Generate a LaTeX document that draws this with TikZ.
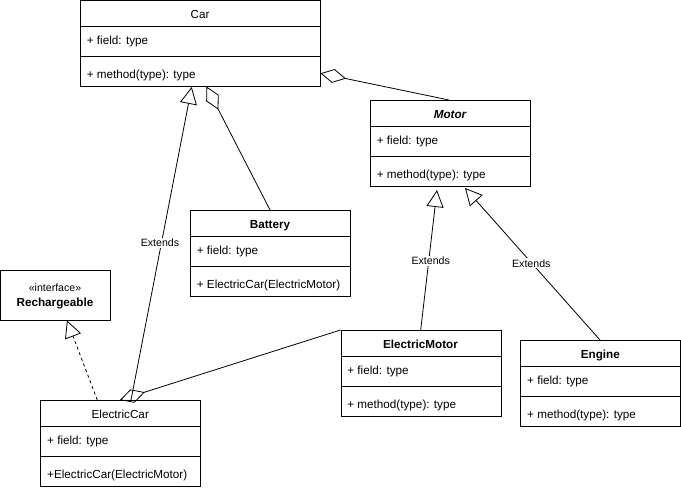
\documentclass[tikz,border=0pt]{standalone}
\usepackage{fontspec}
\setmainfont{Liberation Sans}
\usetikzlibrary{arrows.meta}

\begin{document}
\begin{tikzpicture}[x=1pt, y=-1pt, line width=0.8pt,
    classbox/.style={draw, inner sep=0pt, anchor=north west},
    member/.style={font=\fontsize{11.7}{14}\selectfont, inner sep=0pt, anchor=base west},
    head/.style={font=\fontsize{11.7}{14}\selectfont, inner sep=0pt, anchor=base},
    extlabel/.style={font=\fontsize{10.6}{12}\selectfont, fill=white, inner sep=1pt},
    extends/.style={-{Triangle[open, length=17pt, width=17pt]}},
    aggregate/.style={-{Diamond[open, length=26pt, width=14pt]}}]
      \useasboundingbox (0,0) rectangle (681,490);

      % Car
      \node [classbox, minimum width=240pt, minimum height=86pt] (car) at (80,0) {};
      \draw (80,26) -- (320,26);
      \draw (80,56) -- (320,56);
      \node [head] (carname) at (200,18.3) {Car};
      \node [member] (carfield) at (86.5,44.2) {+ field: type};
      \node [member] (carmeth) at (86.5,78.5) {+ method(type): type};

      % Motor
      \node [classbox, minimum width=160pt, minimum height=86pt] (motor) at (370,100) {};
      \draw (370,126) -- (530,126);
      \draw (370,156) -- (530,156);
      \node [head, font=\fontsize{11.7}{14}\selectfont\bfseries\itshape] (motorname) at (450,118.3) {Motor};
      \node [member] (motorfield) at (376.5,144.2) {+ field: type};
      \node [member] (motormeth) at (376.5,178.5) {+ method(type): type};

      % Battery
      \node [classbox, minimum width=160pt, minimum height=86pt] (battery) at (190,210) {};
      \draw (190,236) -- (350,236);
      \draw (190,266) -- (350,266);
      \node [head, font=\fontsize{11.7}{14}\selectfont\bfseries] (batteryname) at (270,228.3) {Battery};
      \node [member] (batteryfield) at (196.5,254.2) {+ field: type};
      \node [member] (batterymeth) at (196.5,288.5) {+ ElectricCar(ElectricMotor)};

      % Rechargeable
      \node [classbox, minimum width=110pt, minimum height=50pt] (recharge) at (0,270) {};
      \node [head, font=\fontsize{10.6}{12}\selectfont] (rechargetag) at (55,291.7) {«interface»};
      \node [head, font=\fontsize{11.7}{14}\selectfont\bfseries] (rechargename) at (55,306.7) {Rechargeable};

      % ElectricMotor
      \node [classbox, minimum width=160pt, minimum height=86pt] (emotor) at (340.5,330) {};
      \draw (340.5,356) -- (500.5,356);
      \draw (340.5,386) -- (500.5,386);
      \node [head, font=\fontsize{11.7}{14}\selectfont\bfseries] (emotorname) at (420.5,348.3) {ElectricMotor};
      \node [member] (emotorfield) at (347,374.2) {+ field: type};
      \node [member] (emotormeth) at (347,408.5) {+ method(type): type};

      % Engine
      \node [classbox, minimum width=160pt, minimum height=86pt] (engine) at (520.3,340) {};
      \draw (520.3,366) -- (680.3,366);
      \draw (520.3,396) -- (680.3,396);
      \node [head, font=\fontsize{11.7}{14}\selectfont\bfseries] (enginename) at (600.3,358.3) {Engine};
      \node [member] (enginefield) at (526.8,384.2) {+ field: type};
      \node [member] (enginemeth) at (526.8,418.5) {+ method(type): type};

      % ElectricCar
      \node [classbox, minimum width=160pt, minimum height=86pt] (ecar) at (40.3,400) {};
      \draw (40.3,426) -- (200.3,426);
      \draw (40.3,456) -- (200.3,456);
      \node [head] (ecarname) at (120.3,418.3) {ElectricCar};
      \node [member] (ecarfield) at (46.8,444.2) {+ field: type};
      \node [member] (ecarmeth) at (46.8,478.5) {+ElectricCar(ElectricMotor)};

      % attachment points
      \coordinate (carE) at (320.5,73.3);
      \coordinate (carS1) at (191.7,87);
      \coordinate (carS2) at (206.5,86.5);
      \coordinate (motorN) at (449,100);
      \coordinate (motorS1) at (437,190);
      \coordinate (motorS2) at (465,188);
      \coordinate (batteryN) at (270,210);
      \coordinate (rechargeS) at (67,320.5);
      \coordinate (emotorN) at (420.7,330);
      \coordinate (emotorNW) at (340.5,330);
      \coordinate (engineN) at (600,340);
      \coordinate (ecarN1) at (131,400);
      \coordinate (ecarN2) at (120,400);
      \coordinate (ecarN3) at (97.3,400);

      % connectors
      \draw [aggregate] (motorN) -- (carE);
      \draw [aggregate] (batteryN) -- (carS2);
      \draw [extends] (ecarN1) -- (carS1);
      \draw [extends, dash pattern=on 3pt off 3pt] (ecarN3) -- (rechargeS);
      \draw [aggregate] (emotorNW) -- (ecarN2);
      \draw [extends] (emotorN) -- (motorS1);
      \draw [extends] (engineN) -- (motorS2);

      \node [extlabel] (ext1) at (160,243) {Extends};
      \node [extlabel] (ext2) at (430.7,260.7) {Extends};
      \node [extlabel] (ext3) at (531.3,263.3) {Extends};
\end{tikzpicture}
\end{document}
